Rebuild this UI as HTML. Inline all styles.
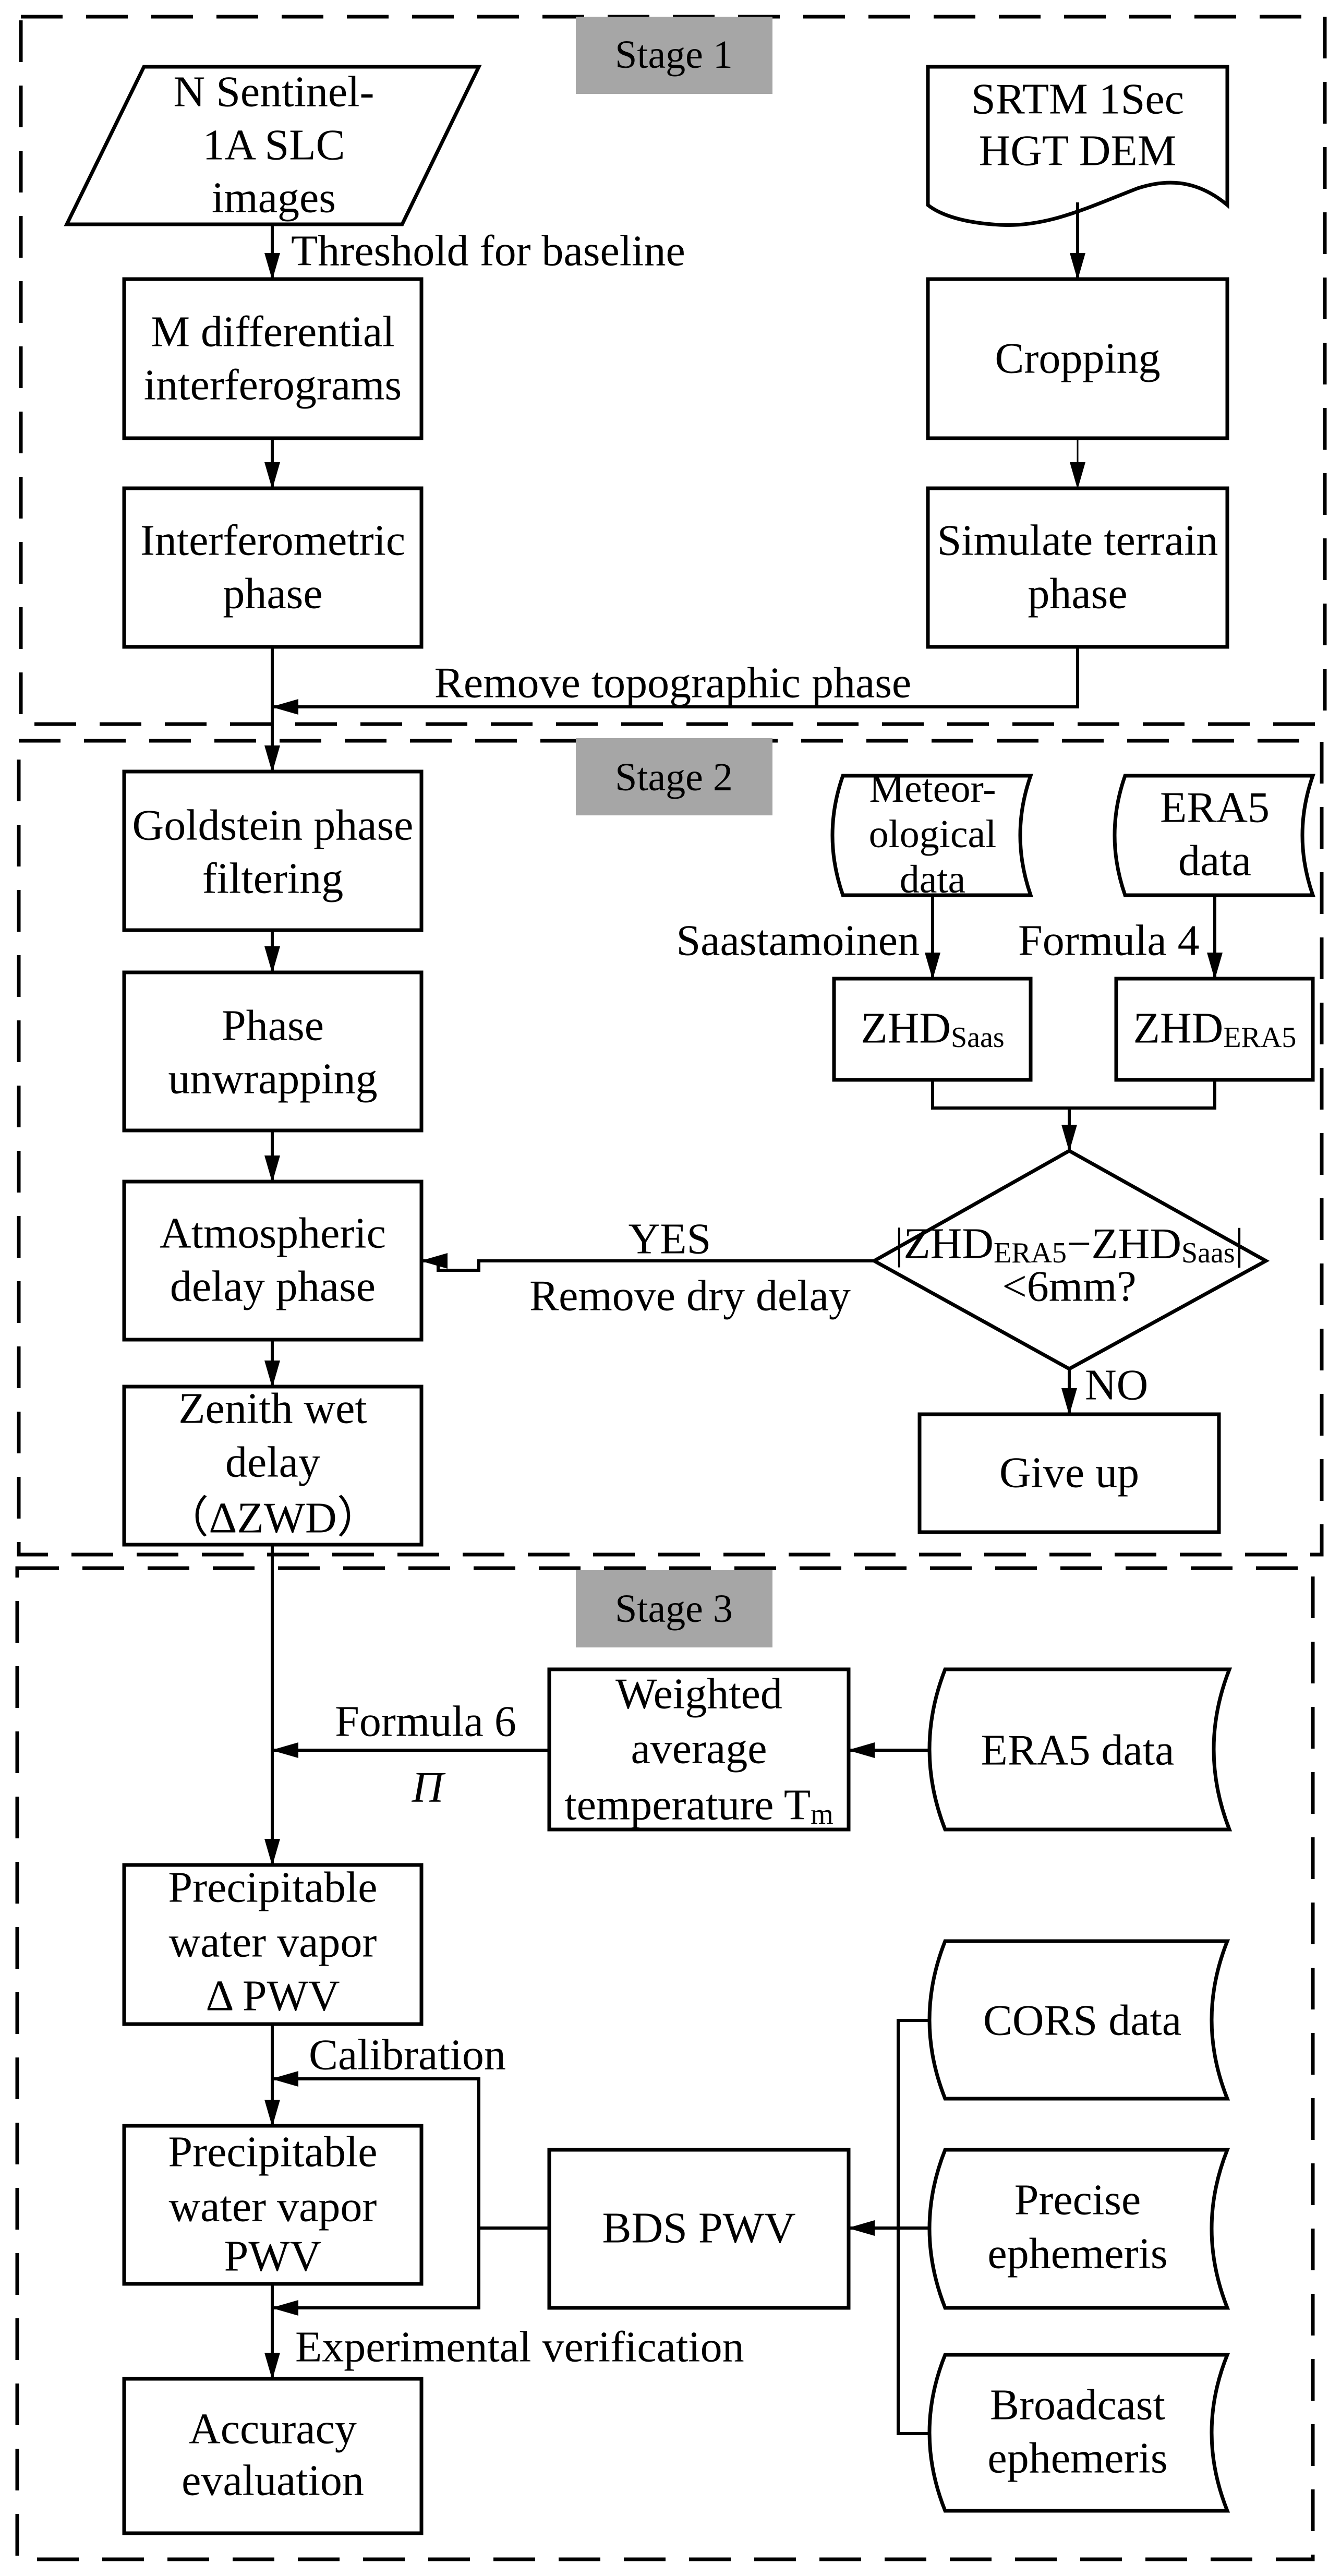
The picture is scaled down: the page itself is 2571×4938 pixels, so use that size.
<!DOCTYPE html>
<html><head><meta charset="utf-8"><style>html,body{margin:0;padding:0;background:#fff}svg{display:block}</style></head>
<body>
<svg width="2571" height="4938" viewBox="0 0 2571 4938" xmlns="http://www.w3.org/2000/svg" font-family="'Liberation Serif', serif" font-size="84" fill="#000">
<defs>
<marker id="a" markerUnits="userSpaceOnUse" markerWidth="52" markerHeight="32" refX="50" refY="16" orient="auto"><path d="M0,1 L52,16 L0,31 z" fill="#000"/></marker>
</defs>
<g fill="none" stroke="#000" stroke-width="7" stroke-dasharray="80,45">
<rect x="40" y="32" width="2500" height="1356"/>
<rect x="36" y="1420" width="2498" height="1560"/>
<rect x="33" y="3006" width="2484" height="1900"/>
</g>
<g fill="#a6a6a6"><rect x="1104" y="32" width="377" height="148"/><rect x="1104" y="1415" width="377" height="148"/><rect x="1104" y="3010" width="377" height="148"/></g>
<g text-anchor="middle" dominant-baseline="central" font-size="76">
<text x="1292" y="105">Stage 1</text><text x="1292" y="1490">Stage 2</text><text x="1292" y="3084">Stage 3</text></g>

<g fill="none" stroke="#000" stroke-width="7">
<path d="M276,128 L918,128 L771,430 L128,430 Z"/>
<rect x="238" y="535" width="570" height="305"/>
<rect x="238" y="936" width="570" height="304"/>
<path d="M1779,128 L2353,128 L2353,393 C2290,340 2230,345 2181,361 C2080,400 2000,440 1902,430 C1840,425 1800,410 1779,393 Z"/>
<rect x="1779" y="535" width="574" height="305"/>
<rect x="1779" y="936" width="574" height="304"/>
<rect x="238" y="1479" width="570" height="304"/>
<rect x="238" y="1864" width="570" height="303"/>
<rect x="238" y="2265" width="570" height="303"/>
<rect x="238" y="2658" width="570" height="303"/>
<path d="M1616,1487 L1976,1487 Q1936,1601 1976,1716 L1616,1716 Q1576,1601 1616,1487 Z"/>
<path d="M2157,1487 L2517,1487 Q2477,1601 2517,1716 L2157,1716 Q2117,1601 2157,1487 Z"/>
<rect x="1599" y="1876" width="377" height="194"/>
<rect x="2140" y="1876" width="377" height="194"/>
<path d="M2050,2206 L2427,2417 L2050,2624 L1676,2417 Z"/>
<rect x="1763" y="2711" width="574" height="226"/>
<rect x="1053" y="3200" width="574" height="307"/>
<path d="M1812,3200 L2357,3200 Q2297,3353 2357,3507 L1812,3507 Q1752,3353 1812,3200 Z"/>
<rect x="238" y="3575" width="570" height="305"/>
<rect x="238" y="4075" width="570" height="303"/>
<rect x="238" y="4560" width="570" height="296"/>
<rect x="1053" y="4121" width="574" height="303"/>
<path d="M1812,3721 L2353,3721 Q2293,3872 2353,4023 L1812,4023 Q1752,3872 1812,3721 Z"/>
<path d="M1812,4121 L2353,4121 Q2293,4272 2353,4424 L1812,4424 Q1752,4272 1812,4121 Z"/>
<path d="M1812,4514 L2353,4514 Q2293,4663 2353,4813 L1812,4813 Q1752,4663 1812,4514 Z"/>
</g>

<g fill="none" stroke="#000" stroke-width="6" marker-end="url(#a)">
<path d="M522,430 L522,535"/>
<path d="M522,840 L522,936"/>
<path d="M2066,388 L2066,535"/>
<path d="M2066,840 L2066,936" stroke-width="3"/>
<path d="M2066,1240 L2066,1355 L522,1355"/>
<path d="M522,1240 L522,1479"/>
<path d="M522,1783 L522,1864"/>
<path d="M522,2167 L522,2265"/>
<path d="M522,2568 L522,2658"/>
<path d="M1788,1716 L1788,1876"/>
<path d="M2329,1716 L2329,1876"/>
<path d="M2050,2124 L2050,2206"/>
<path d="M1676,2417 L918,2417 L918,2435 L840,2435 L840,2417 L808,2417"/>
<path d="M2050,2624 L2050,2711"/>
<path d="M522,2961 L522,3575"/>
<path d="M1779,3355 L1627,3355"/>
<path d="M1053,3355 L522,3355"/>
<path d="M522,3880 L522,4075"/>
<path d="M918,4271 L918,3985 L522,3985"/>
<path d="M918,4271 L918,4424 L522,4424"/>
<path d="M522,4378 L522,4560"/>
<path d="M1779,4271 L1627,4271"/>
</g>
<g fill="none" stroke="#000" stroke-width="6">
<path d="M1788,2070 L1788,2124 L2329,2124 L2329,2070"/>
<path d="M918,4271 L1053,4271"/>
<path d="M1779,3873 L1722,3873 L1722,4665 L1779,4665"/>
</g>

<g text-anchor="middle" dominant-baseline="central">
<text x="525" y="176">N Sentinel-</text><text x="525" y="278">1A SLC</text><text x="525" y="379">images</text>
<text x="2066" y="190">SRTM 1Sec</text><text x="2066" y="289">HGT DEM</text>
<text x="523" y="636">M differential</text><text x="523" y="738">interferograms</text>
<text x="2066" y="687">Cropping</text>
<text x="523" y="1036">Interferometric</text><text x="523" y="1138">phase</text>
<text x="2066" y="1036">Simulate terrain</text><text x="2066" y="1138">phase</text>
<text x="523" y="1582">Goldstein phase</text><text x="523" y="1684">filtering</text>
<text x="523" y="1966">Phase</text><text x="523" y="2068">unwrapping</text>
<text x="523" y="2364">Atmospheric</text><text x="523" y="2466">delay phase</text>
<text x="523" y="2700">Zenith wet</text><text x="523" y="2803">delay</text><text x="523" y="2910">（ΔZWD）</text>
<g font-size="76"><text x="1788" y="1512">Meteor-</text><text x="1788" y="1599">ological</text><text x="1788" y="1686">data</text></g>
<text x="2329" y="1548">ERA5</text><text x="2329" y="1650">data</text>
<text x="1788" y="1971">ZHD<tspan font-size="56" dy="18">Saas</tspan></text>
<text x="2329" y="1971">ZHD<tspan font-size="56" dy="18">ERA5</tspan></text>
<text x="2050" y="2384">|ZHD<tspan font-size="56" dy="18">ERA5</tspan><tspan dy="-18">−ZHD</tspan><tspan font-size="56" dy="18">Saas</tspan><tspan dy="-18">|</tspan></text>
<text x="2050" y="2466">&lt;6mm?</text>
<text x="2050" y="2823">Give up</text>
<text x="1340" y="3247">Weighted</text><text x="1340" y="3352">average</text><text x="1340" y="3460">temperature T<tspan font-size="56" dy="18">m</tspan></text>
<text x="2066" y="3355">ERA5 data</text>
<text x="523" y="3618">Precipitable</text><text x="523" y="3723">water vapor</text><text x="523" y="3826">Δ PWV</text>
<text x="523" y="4125">Precipitable</text><text x="523" y="4230">water vapor</text><text x="523" y="4325">PWV</text>
<text x="523" y="4656">Accuracy</text><text x="523" y="4755">evaluation</text>
<text x="1340" y="4271">BDS PWV</text>
<text x="2075" y="3873">CORS data</text>
<text x="2066" y="4217">Precise</text><text x="2066" y="4320">ephemeris</text>
<text x="2066" y="4610">Broadcast</text><text x="2066" y="4712">ephemeris</text>
<text x="1290" y="1309">Remove  topographic phase</text>
<text x="1284" y="2375">YES</text>
<text x="1323" y="2484">Remove dry delay</text>
<text x="816" y="3300">Formula 6</text>
<text x="820" y="3426" font-style="italic">Π</text>
</g>
<g dominant-baseline="central">
<text x="558" y="481">Threshold for baseline</text>
<text x="1763" y="1803" text-anchor="end">Saastamoinen</text>
<text x="1952" y="1803">Formula 4</text>
<text x="2080" y="2655">NO</text>
<text x="592" y="3939">Calibration</text>
<text x="566" y="4499">Experimental verification</text>
</g>
</svg>
</body></html>
